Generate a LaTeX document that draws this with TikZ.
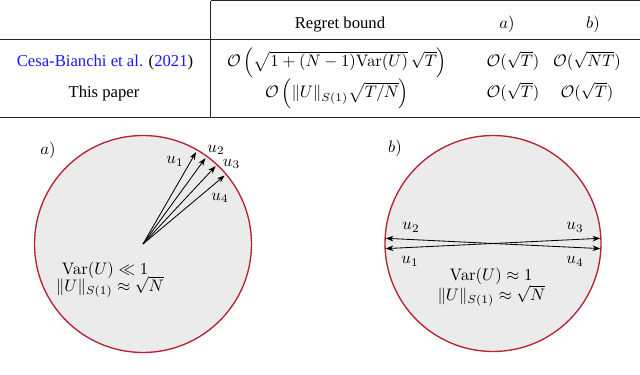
\documentclass[tikz,border=0pt]{standalone}
\usepackage[no-math]{fontspec}
\setmainfont{Liberation Serif}
\usetikzlibrary{arrows.meta,calc}
\definecolor{rimred}{RGB}{185,32,52}
\definecolor{diskgray}{RGB}{235,235,235}
\definecolor{citeblue}{RGB}{25,25,245}
\begin{document}
\begin{tikzpicture}[x=0.6pt,y=-0.6pt,
  rule/.style={line width=0.6pt, draw=black!85},
  disk/.style={draw=rimred, fill=diskgray, line width=0.8pt},
  vec/.style={-{Stealth[length=4.6pt,width=3.4pt]}, line width=0.5pt},
  cell/.style={inner sep=0pt, anchor=base},
  lbl/.style={inner sep=0pt}]
\useasboundingbox (0,0) rectangle (640,375);
% ---------- table ----------
\coordinate (vtop) at (210.7,0.8);
\coordinate (vbot) at (210.7,117.5);
\coordinate (trt) at (640,0.8);
\coordinate (mL) at (0,39.3);
\coordinate (mR) at (640,39.3);
\coordinate (bL) at (0,117.5);
\coordinate (bR) at (640,117.5);
\draw[rule] (vtop) -- (trt);
\draw[rule] (vtop) -- (vbot);
\draw[rule] (mL) -- (mR);
\draw[rule] (bL) -- (bR);
\node[cell] (hreg) at (340,29) {Regret bound};
\node[cell] (ha) at (507,29) {$a)$};
\node[cell] (hb) at (593,29) {$b)$};
\node[cell] (cite) at (105,67) {\textcolor{citeblue}{Cesa-Bianchi et al.} (\textcolor{citeblue}{2021})};
\node[cell] (f1) at (337,67) {$\mathcal{O}\left(\sqrt{1+(N-1)\mathrm{Var}(U)}\,\sqrt{T}\right)$};
\node[cell] (f1a) at (513,67) {$\mathcal{O}(\sqrt{T})$};
\node[cell] (f1b) at (587,67) {$\mathcal{O}(\sqrt{NT})$};
\node[cell] (paper) at (104,98) {This paper};
\node[cell] (f2) at (337,98) {$\mathcal{O}\left(\|U\|_{S(1)}\sqrt{T/N}\right)$};
\node[cell] (f2a) at (513,98) {$\mathcal{O}(\sqrt{T})$};
\node[cell] (f2b) at (587,98) {$\mathcal{O}(\sqrt{T})$};
% ---------- circle a ----------
\coordinate (cA) at (143,244);
\draw[disk] (cA) circle[radius=108.5];
\coordinate (tA1) at ($(cA)+(-60:106)$);
\coordinate (tA2) at ($(cA)+(-54:106)$);
\coordinate (tA3) at ($(cA)+(-47:106.5)$);
\coordinate (tA4) at ($(cA)+(-40:106.5)$);
\draw[vec] (cA) -- (tA1);
\draw[vec] (cA) -- (tA2);
\draw[vec] (cA) -- (tA3);
\draw[vec] (cA) -- (tA4);
\node[lbl] (la) at (48,150) {$a)$};
\node[lbl] (uA1) at (175,161.5) {$u_1$};
\node[lbl] (uA2) at (216,150) {$u_2$};
\node[lbl] (uA3) at (231.5,164) {$u_3$};
\node[lbl] (uA4) at (220,198) {$u_4$};
\node[cell] (varA) at (105,274) {$\mathrm{Var}(U)\ll 1$};
\node[cell] (normA) at (110,291.5) {$\|U\|_{S(1)}\approx\sqrt{N}$};
% ---------- circle b ----------
\coordinate (cB) at (493,243.5);
\draw[disk] (cB) circle[radius=108];
\coordinate (tB2) at (385.8,238.3);
\coordinate (tB1) at (385.8,248.6);
\coordinate (tB3) at (600.2,238.3);
\coordinate (tB4) at (600.2,248.6);
\draw[vec] (cB) -- (tB1);
\draw[vec] (cB) -- (tB2);
\draw[vec] (cB) -- (tB3);
\draw[vec] (cB) -- (tB4);
\node[lbl] (lb) at (395,148.5) {$b)$};
\node[lbl] (uB2) at (411,227.5) {$u_2$};
\node[lbl] (uB1) at (410,261.5) {$u_1$};
\node[lbl] (uB3) at (575,227.5) {$u_3$};
\node[lbl] (uB4) at (575,261.5) {$u_4$};
\node[cell] (varB) at (491,280.5) {$\mathrm{Var}(U)\approx 1$};
\node[cell] (normB) at (491.5,300.5) {$\|U\|_{S(1)}\approx\sqrt{N}$};
\end{tikzpicture}
\end{document}
